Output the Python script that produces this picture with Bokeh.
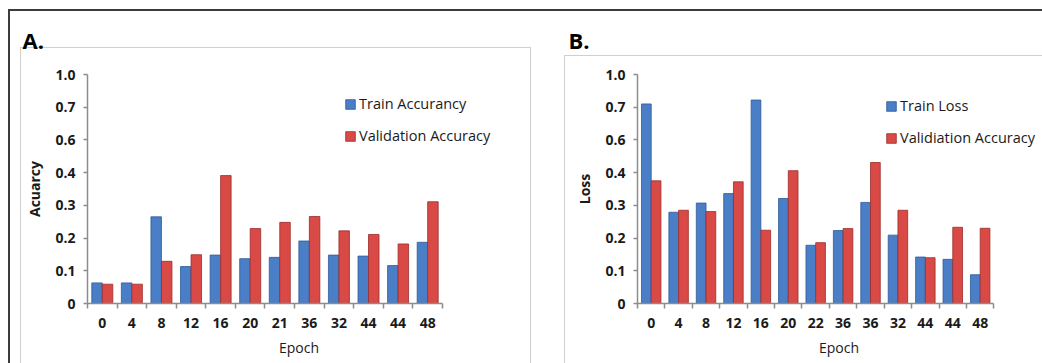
from bokeh.plotting import figure
from bokeh.layouts import row
from bokeh.models import FixedTicker, ColumnDataSource
from bokeh.transform import dodge
from bokeh.embed import file_html
from bokeh.resources import INLINE

# ---------------- data ----------------
epochs_a = ["0", "4", "8", "12", "16", "20", "21", "36", "32", "44", "44", "48"]
train_acc = [0.063, 0.063, 0.265, 0.113, 0.148, 0.137, 0.141, 0.191, 0.148, 0.145, 0.116, 0.187]
val_acc = [0.059, 0.059, 0.129, 0.149, 0.391, 0.229, 0.248, 0.266, 0.222, 0.211, 0.182, 0.311]

epochs_b = ["0", "4", "8", "12", "16", "20", "22", "36", "36", "32", "44", "44", "48"]
train_loss = [0.610, 0.279, 0.307, 0.336, 0.622, 0.321, 0.178, 0.223, 0.309, 0.209, 0.142, 0.135, 0.088]
val_loss = [0.375, 0.285, 0.281, 0.372, 0.224, 0.406, 0.186, 0.229, 0.431, 0.285, 0.140, 0.233, 0.230]

y_ticks = [0, 0.1, 0.2, 0.3, 0.4, 0.5, 0.6, 0.7]
y_tick_labels = ["0", "0.1", "0.2", "0.3", "0.4", "0.6", "0.7", "1.0"]

BLUE = "#4a7ec6"
BLUE_EDGE = "#2e5a9c"
RED = "#d94a46"
RED_EDGE = "#9a2c29"
FONT = "Open Sans"
TXT = "#1a1a1a"
DARK = "#3c3c3c"
GREY = "#cfcfcf"

H = 363


def css_lines(lines):
    """lines: list of (color, x, y, w, h) drawn as CSS background layers."""
    imgs = ", ".join(f"linear-gradient({c}, {c})" for c, *_ in lines)
    pos = ", ".join(f"{x}px {y}px" for _, x, y, w, h in lines)
    size = ", ".join(f"{w}px {h}px" for _, x, y, w, h in lines)
    return {"background-image": imgs, "background-position": pos,
            "background-size": size, "background-repeat": "no-repeat",
            "background-color": "white"}


def make_panel(letter, cats, s1, s2, n1, n2, ylab, width, ml, mr, mb, x_end,
               title_offset, title_standoff, leg_loc, deco):
    n = len(cats)
    src = ColumnDataSource(dict(x=list(range(n)), a=s1, b=s2))
    p = figure(width=width, height=H, x_range=(-0.5, x_end), y_range=(0, 0.7),
               output_backend="svg", toolbar_location=None,
               min_border_left=ml, min_border_right=mr, min_border_top=74,
               min_border_bottom=mb, styles=css_lines(deco))
    p.outline_line_color = None
    p.xgrid.visible = False
    p.ygrid.visible = False
    p.background_fill_color = None
    p.border_fill_color = None

    p.title.text = letter
    p.title.align = "left"
    p.title.offset = title_offset
    p.title.standoff = title_standoff
    p.title.text_font = FONT
    p.title.text_font_size = "22px"
    p.title.text_font_style = "bold"
    p.title.text_color = "black"

    bw = 0.355
    p.vbar(x=dodge("x", -bw / 2, range=p.x_range), top="a", width=bw, source=src,
           fill_color=BLUE, line_color=BLUE_EDGE, line_width=0.8, legend_label=n1)
    p.vbar(x=dodge("x", bw / 2, range=p.x_range), top="b", width=bw, source=src,
           fill_color=RED, line_color=RED_EDGE, line_width=0.8, legend_label=n2)

    # x axis
    xa = p.xaxis[0]
    xa.ticker = FixedTicker(ticks=list(range(n)), minor_ticks=[i - 0.5 for i in range(n + 1)])
    xa.major_label_overrides = {i: c for i, c in enumerate(cats)}
    xa.bounds = (-0.5, n - 0.5)
    xa.axis_line_color = "#8c8c8c"
    xa.axis_line_width = 1.5
    xa.major_tick_line_color = None
    xa.major_tick_out = 0
    xa.major_tick_in = 0
    xa.minor_tick_line_color = "#8c8c8c"
    xa.minor_tick_line_width = 1.5
    xa.minor_tick_out = 5
    xa.minor_tick_in = 0
    xa.major_label_standoff = 9
    xa.major_label_text_font = FONT
    xa.major_label_text_font_size = "14px"
    xa.major_label_text_font_style = "bold"
    xa.major_label_text_color = TXT
    xa.axis_label = "Epoch"
    xa.axis_label_text_font = FONT
    xa.axis_label_text_font_size = "14px"
    xa.axis_label_text_font_style = "normal"
    xa.axis_label_text_color = TXT
    xa.axis_label_standoff = 7

    # y axis
    ya = p.yaxis[0]
    ya.ticker = FixedTicker(ticks=y_ticks, minor_ticks=[])
    ya.major_label_overrides = {t: l for t, l in zip(y_ticks, y_tick_labels)}
    ya.axis_line_color = "#8c8c8c"
    ya.axis_line_width = 1.5
    ya.major_tick_line_color = "#8c8c8c"
    ya.major_tick_line_width = 1.5
    ya.major_tick_out = 4
    ya.major_tick_in = 0
    ya.minor_tick_line_color = None
    ya.major_label_standoff = 8
    ya.major_label_text_font = FONT
    ya.major_label_text_font_size = "14px"
    ya.major_label_text_font_style = "bold"
    ya.major_label_text_color = TXT
    ya.axis_label = ylab
    ya.axis_label_text_font = FONT
    ya.axis_label_text_font_size = "14px"
    ya.axis_label_text_font_style = "bold"
    ya.axis_label_text_color = TXT
    ya.axis_label_standoff = 8

    # legend
    lg = p.legend[0]
    lg.location = leg_loc
    lg.background_fill_alpha = 0
    lg.border_line_color = None
    lg.padding = 0
    lg.margin = 0
    lg.glyph_width = 12
    lg.glyph_height = 12
    lg.label_standoff = 3
    lg.spacing = 11
    lg.label_height = 21
    lg.label_text_font = FONT
    lg.label_text_font_size = "14.5px"
    lg.label_text_color = TXT
    return p


deco_a = [(DARK, 9, 9, 531, 2), (DARK, 8, 9, 2, 354),
          (GREY, 20, 47, 511, 1), (GREY, 20, 47, 1, 316), (GREY, 530, 47, 1, 316)]
deco_b = [(DARK, 0, 9, 502, 2),
          (GREY, 24, 55, 478, 1), (GREY, 24, 55, 1, 308)]

pa = make_panel("A.", epochs_a, train_acc, val_acc, "Train Accurancy", "Validation Accuracy",
                "Acuarcy", 540, 87, 30, 60, 13.8, -65, 40, (257, 157), deco_a)
pb = make_panel("B.", epochs_b, train_loss, val_loss, "Train Loss", "Validiation Accuracy",
                "Loss", 502, 97, 2, 58, 14.2, -69, 40, (248, 155), deco_b)

layout = row(pa, pb, spacing=0)
open("out.html", "w").write(file_html(layout, INLINE))
